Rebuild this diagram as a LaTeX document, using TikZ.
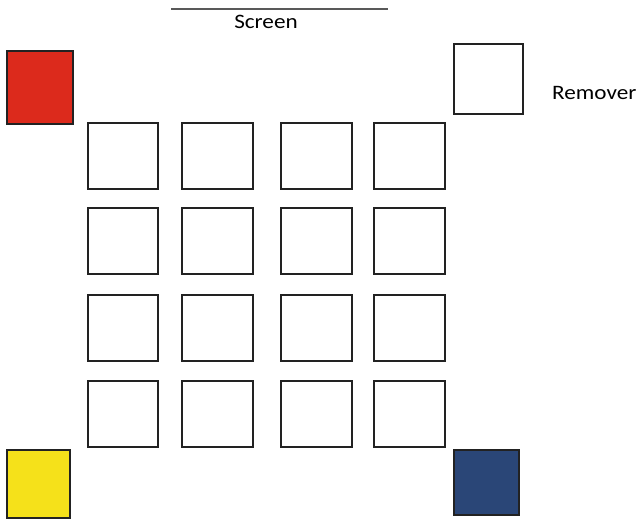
\documentclass[tikz,border=0pt]{standalone}
\usepackage{fontspec}
\setmainfont{Carlito}
\definecolor{redbox}{HTML}{DC2A1C}
\definecolor{yellowbox}{HTML}{F5E11A}
\definecolor{bluebox}{HTML}{2A4677}
\definecolor{edge}{HTML}{222222}
\begin{document}
\begin{tikzpicture}[x=1pt,y=-1pt,
  sq/.style={draw=edge,line width=1.4pt,fill=white},
  lbl/.style={font=\fontsize{20.5}{24}\selectfont,text=black,inner sep=0pt,xscale=1.13}]
\useasboundingbox (0,0) rectangle (638,519);
% screen
\coordinate (s1) at (171,9);
\coordinate (s2) at (388,9);
\draw[draw=black!65,line width=1.8pt] (s1) -- (s2);
\node[lbl] (screen) at (266,22) {Screen};
% corner boxes
\draw[sq,fill=redbox] (7,51) rectangle (73,124);
\draw[sq] (454,44) rectangle (523,114);
\node[lbl,anchor=west] (remover) at (552,93) {Remover};
\draw[sq,fill=yellowbox] (7,450) rectangle (70,518);
\draw[sq,fill=bluebox] (454,450) rectangle (519,515);
% grid
\foreach \xa/\xb in {88/158,182/253,281/352,374/445}{
  \foreach \ya/\yb in {123/189,208/274,295/361,381/447}{
    \draw[sq] (\xa,\ya) rectangle (\xb,\yb);
  }
}
\end{tikzpicture}
\end{document}
